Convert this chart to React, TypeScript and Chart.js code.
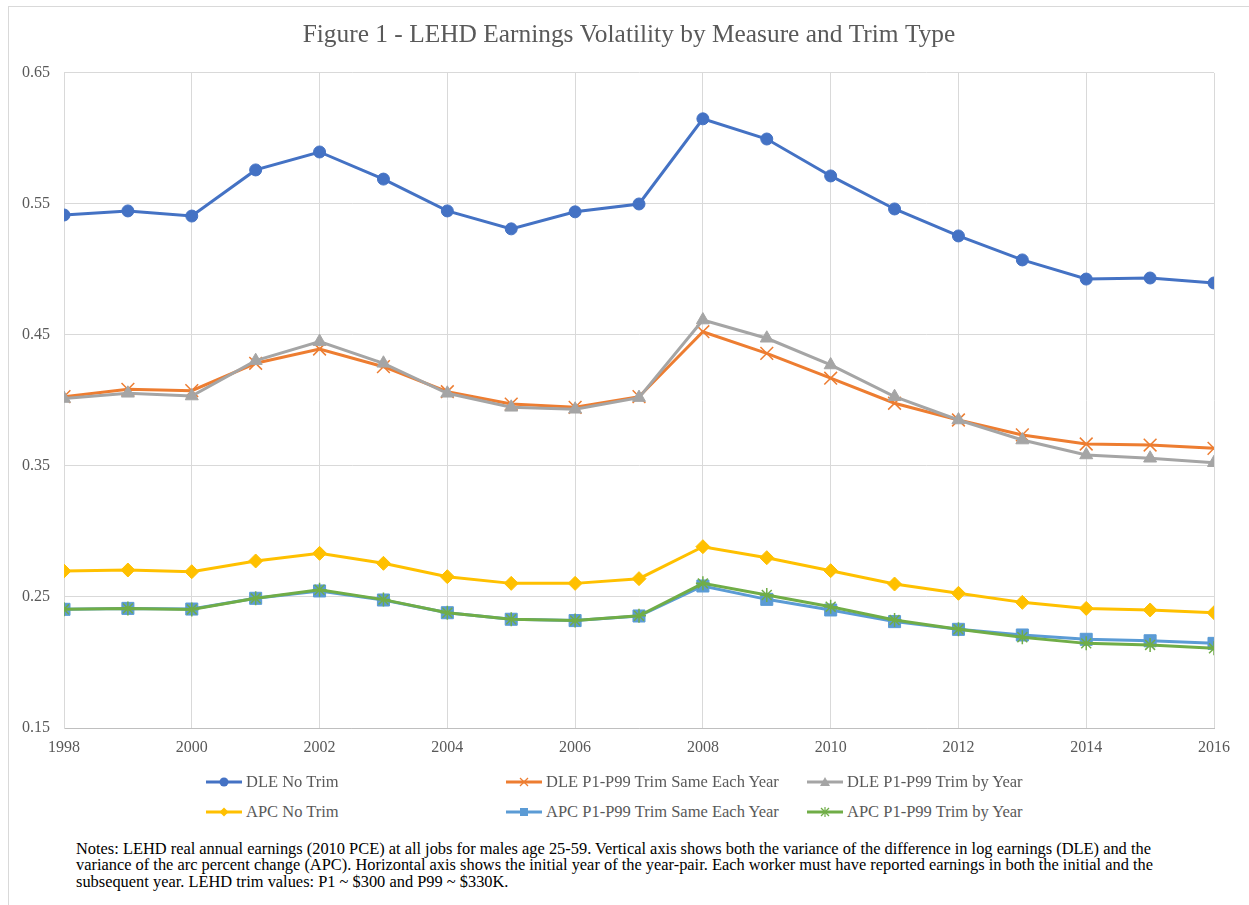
import React, { useEffect, useRef } from "react";
import { Chart, registerables } from "chart.js";

Chart.register(...registerables);

const years = [1998, 1999, 2000, 2001, 2002, 2003, 2004, 2005, 2006, 2007, 2008, 2009, 2010, 2011, 2012, 2013, 2014, 2015, 2016];

const dleNoTrim = [0.5416, 0.5447, 0.5408, 0.576, 0.5897, 0.569, 0.5447, 0.531, 0.544, 0.55, 0.615, 0.5996, 0.5714, 0.5462, 0.5256, 0.5073, 0.4927, 0.4935, 0.4897];
const dleTrimSame = [0.4029, 0.4085, 0.4075, 0.4284, 0.4393, 0.4258, 0.4067, 0.3973, 0.3948, 0.4029, 0.4525, 0.436, 0.417, 0.3979, 0.3851, 0.3737, 0.3668, 0.366, 0.3635];
const dleTrimByYear = [0.4015, 0.4055, 0.4034, 0.4304, 0.4449, 0.4284, 0.4055, 0.3948, 0.3933, 0.4022, 0.4614, 0.4475, 0.4271, 0.4029, 0.3851, 0.3698, 0.3584, 0.3559, 0.3525];
const apcNoTrim = [0.2698, 0.2706, 0.2693, 0.2775, 0.2833, 0.2757, 0.2655, 0.2604, 0.2604, 0.264, 0.2884, 0.28, 0.2701, 0.2599, 0.2528, 0.2459, 0.2413, 0.2401, 0.238];
const apcTrimSame = [0.2406, 0.2413, 0.2408, 0.249, 0.2546, 0.2477, 0.238, 0.233, 0.232, 0.2355, 0.2584, 0.2482, 0.2401, 0.2312, 0.2253, 0.221, 0.2177, 0.2166, 0.2146];
const apcTrimByYear = [0.2406, 0.2413, 0.2405, 0.249, 0.2555, 0.248, 0.238, 0.233, 0.232, 0.2357, 0.2604, 0.2515, 0.2426, 0.2324, 0.2253, 0.2193, 0.2146, 0.2134, 0.2108];

const seriesNames = [
  "DLE No Trim",
  "DLE P1-P99 Trim Same Each Year",
  "DLE P1-P99 Trim by Year",
  "APC No Trim",
  "APC P1-P99 Trim Same Each Year",
  "APC P1-P99 Trim by Year",
];

const TITLE = "Figure 1 - LEHD Earnings Volatility by Measure and Trim Type";
const NOTES = [
  "Notes: LEHD real annual earnings (2010 PCE) at all jobs for males age 25-59. Vertical axis shows both the variance of the difference in log earnings (DLE) and the",
  "variance of the arc percent change (APC). Horizontal axis shows the initial year of the year-pair. Each worker must have reported earnings in both the initial and the",
  "subsequent year. LEHD trim values: P1 ~ $300 and P99 ~ $330K.",
];

const FONT = '"Liberation Serif", "Times New Roman", serif';
const TEXT = "#595959";

const styles = [
  { color: "#4472C4", point: "circle", radius: 6, bw: 1 },
  { color: "#ED7D31", point: "crossRot", radius: 9, bw: 1.5 },
  { color: "#A5A5A5", point: "triangle", radius: 7.5, bw: 1 },
  { color: "#FFC000", point: "rectRot", radius: 7, bw: 1 },
  { color: "#5B9BD5", point: "rect", radius: 8.5, bw: 1 },
  { color: "#70AD47", point: "star", radius: 7, bw: 1.5 },
];

const seriesValues = [dleNoTrim, dleTrimSame, dleTrimByYear, apcNoTrim, apcTrimSame, apcTrimByYear];

function LegendIcon({ idx }: { idx: number }) {
  const c = styles[idx].color;
  const cx = 18, cy = 8;
  let marker: any = null;
  switch (styles[idx].point) {
    case "circle":
      marker = <circle cx={cx} cy={cy} r={4.5} fill={c} />;
      break;
    case "crossRot":
      marker = (
        <g stroke={c} strokeWidth={1.2}>
          <line x1={cx - 4} y1={cy - 4} x2={cx + 4} y2={cy + 4} />
          <line x1={cx - 4} y1={cy + 4} x2={cx + 4} y2={cy - 4} />
        </g>
      );
      break;
    case "triangle":
      marker = <polygon points={`${cx},${cy - 5} ${cx + 5},${cy + 4} ${cx - 5},${cy + 4}`} fill={c} />;
      break;
    case "rectRot":
      marker = <polygon points={`${cx},${cy - 4.5} ${cx + 4.5},${cy} ${cx},${cy + 4.5} ${cx - 4.5},${cy}`} fill={c} />;
      break;
    case "rect":
      marker = <rect x={cx - 4} y={cy - 4} width={8} height={8} fill={c} />;
      break;
    case "star":
      marker = (
        <g stroke={c} strokeWidth={1.2}>
          <line x1={cx - 4} y1={cy - 4} x2={cx + 4} y2={cy + 4} />
          <line x1={cx - 4} y1={cy + 4} x2={cx + 4} y2={cy - 4} />
          <line x1={cx} y1={cy - 5} x2={cx} y2={cy + 5} />
        </g>
      );
      break;
  }
  return (
    <svg width={36} height={16} style={{ display: "block" }}>
      <line x1={0} y1={cy} x2={36} y2={cy} stroke={c} strokeWidth={3} />
      {marker}
    </svg>
  );
}

export default function App() {
  const canvasRef = useRef<HTMLCanvasElement | null>(null);

  useEffect(() => {
    if (!canvasRef.current) return;
    const datasets = seriesValues.map((vals, i) => ({
      label: seriesNames[i],
      data: years.map((y, k) => ({ x: y, y: vals[k] })),
      borderColor: styles[i].color,
      backgroundColor: styles[i].color,
      pointBackgroundColor: styles[i].color,
      pointBorderColor: styles[i].color,
      pointStyle: styles[i].point as any,
      pointRadius: styles[i].radius,
      pointBorderWidth: styles[i].bw,
      borderWidth: 3,
      tension: 0,
      order: 5 - i,
      yAxisID: "y",
    }));

    const chart = new Chart(canvasRef.current, {
      type: "line",
      data: { datasets },
      options: {
        animation: false,
        responsive: false,
        maintainAspectRatio: false,
        devicePixelRatio: 1,
        layout: { padding: { left: 0, right: 0, top: 0, bottom: 0 } },
        plugins: {
          legend: { display: false },
          tooltip: { enabled: false },
          title: {
            display: true,
            text: TITLE,
            color: TEXT,
            font: { family: FONT, size: 25.4, weight: "normal" as any, lineHeight: 1.2 },
            padding: { top: 12.75, bottom: 22.75 },
          },
        },
        scales: {
          x: {
            type: "linear",
            min: 1998,
            max: 2016,
            ticks: {
              stepSize: 2,
              color: TEXT,
              font: { family: FONT, size: 16 },
              padding: 10,
              maxRotation: 0,
              callback: (v: any) => String(v),
            },
            grid: { color: "#d9d9d9", lineWidth: 1, drawTicks: false },
            border: { color: "#bfbfbf", width: 1 },
            afterFit: (scale: any) => {
              scale.height = 49;
            },
          },
          y: {
            type: "linear",
            position: "left",
            min: 0.15,
            max: 0.65,
            ticks: {
              stepSize: 0.1,
              color: TEXT,
              font: { family: FONT, size: 16 },
              padding: 14,
              callback: (v: any) => Number(v).toFixed(2),
            },
            grid: { color: "#d9d9d9", lineWidth: 1, drawTicks: false },
            border: { color: "#d9d9d9", width: 1 },
            afterFit: (scale: any) => {
              scale.width = 55;
            },
          },
          yRight: {
            type: "linear",
            position: "right",
            min: 0.15,
            max: 0.65,
            ticks: { display: false },
            grid: { display: false, drawOnChartArea: false, drawTicks: false },
            border: { display: false },
            afterFit: (scale: any) => {
              scale.width = 35;
            },
          },
        },
      },
    });
    return () => chart.destroy();
  }, []);

  const colX = [206, 506, 807];
  const rowY = [774, 804];

  return (
    <div style={{ position: "absolute", left: 0, top: 0, width: 1249, height: 905, overflow: "hidden", background: "#fff", fontFamily: FONT }}>
      <div
        style={{
          position: "absolute",
          left: 8,
          top: 6,
          width: 1241,
          height: 899,
          boxSizing: "border-box",
          borderTop: "1px solid #d9d9d9",
          borderLeft: "1px solid #d9d9d9",
        }}
      />
      <canvas ref={canvasRef} width={1240} height={770} style={{ position: "absolute", left: 9, top: 7, width: 1240, height: 770 }} />
      {seriesNames.map((name, i) => {
        const col = i % 3;
        const row = Math.floor(i / 3);
        return (
          <div key={name} style={{ position: "absolute", left: colX[col], top: rowY[row], display: "flex", alignItems: "center", height: 16 }}>
            <LegendIcon idx={i} />
            <span style={{ marginLeft: 4, fontSize: 16.5, lineHeight: "16px", color: TEXT, whiteSpace: "nowrap" }}>{name}</span>
          </div>
        );
      })}
      <div style={{ position: "absolute", left: 76, top: 840.5, fontSize: 16.4, lineHeight: "16.6px", color: "#000" }}>
        {NOTES.map((l, i) => (
          <div key={i} style={{ whiteSpace: "nowrap" }}>{l}</div>
        ))}
      </div>
    </div>
  );
}
